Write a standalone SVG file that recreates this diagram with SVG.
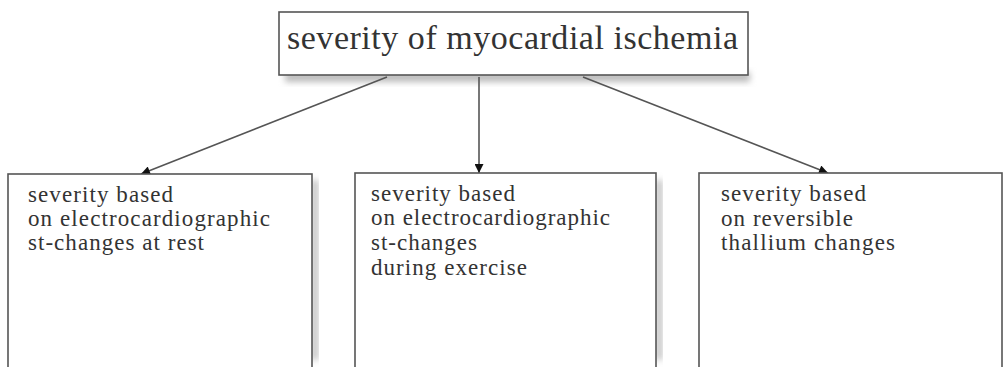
<svg xmlns="http://www.w3.org/2000/svg" width="1005" height="367" viewBox="0 0 1005 367">
<style>
.box{fill:#fff;stroke:#555;stroke-width:1.6}
.sh{fill:#bbb;filter:url(#blur)}
.t{font-family:"Liberation Serif","Times New Roman",serif;fill:#333}
.title{font-size:34px}
.body{font-size:23px}
.conn{stroke:#555;stroke-width:1.6;fill:none;marker-end:url(#ah)}
</style>
<defs>
<filter id="blur" x="-10%" y="-50%" width="120%" height="200%"><feGaussianBlur stdDeviation="3"/></filter>
<marker id="ah" viewBox="0 0 10 10" refX="10" refY="5" markerWidth="10" markerHeight="9" markerUnits="userSpaceOnUse" orient="auto"><path d="M0,0 L10,5 L0,10 z" fill="#111"/></marker>
</defs>
<rect width="1005" height="367" fill="#fff"/>
<g id="top">
<rect class="sh" x="285" y="72" width="465" height="10"/>
<rect class="box" x="279" y="12" width="469" height="63"/>
<text class="t title" x="287" y="49" textLength="451" lengthAdjust="spacing">severity of myocardial ischemia</text>
</g>
<g id="connectors">
<line class="conn" x1="387" y1="77" x2="141" y2="174"/>
<line class="conn" x1="479" y1="77" x2="479" y2="173"/>
<line class="conn" x1="583" y1="77" x2="828" y2="173"/>
</g>
<g id="left">
<rect class="sh" x="312" y="180" width="6" height="180"/>
<rect class="box" x="8" y="174" width="304" height="200"/>
<text class="t body" x="28" y="202" textLength="145" lengthAdjust="spacing">severity based</text>
<text class="t body" x="28" y="226" textLength="242" lengthAdjust="spacing">on electrocardiographic</text>
<text class="t body" x="28" y="250" textLength="176" lengthAdjust="spacing">st-changes at rest</text>
</g>
<g id="middle">
<rect class="sh" x="656" y="180" width="6" height="180"/>
<rect class="box" x="355" y="173" width="301" height="200"/>
<text class="t body" x="371" y="201" textLength="144" lengthAdjust="spacing">severity based</text>
<text class="t body" x="371" y="225" textLength="239" lengthAdjust="spacing">on electrocardiographic</text>
<text class="t body" x="371" y="250" textLength="106" lengthAdjust="spacing">st-changes</text>
<text class="t body" x="371" y="275" textLength="156" lengthAdjust="spacing">during exercise</text>
</g>
<g id="right">
<rect class="box" x="699" y="173" width="303" height="200"/>
<text class="t body" x="721" y="201" textLength="145" lengthAdjust="spacing">severity based</text>
<text class="t body" x="721" y="226" textLength="132" lengthAdjust="spacing">on reversible</text>
<text class="t body" x="721" y="250" textLength="174" lengthAdjust="spacing">thallium changes</text>
</g>
</svg>
